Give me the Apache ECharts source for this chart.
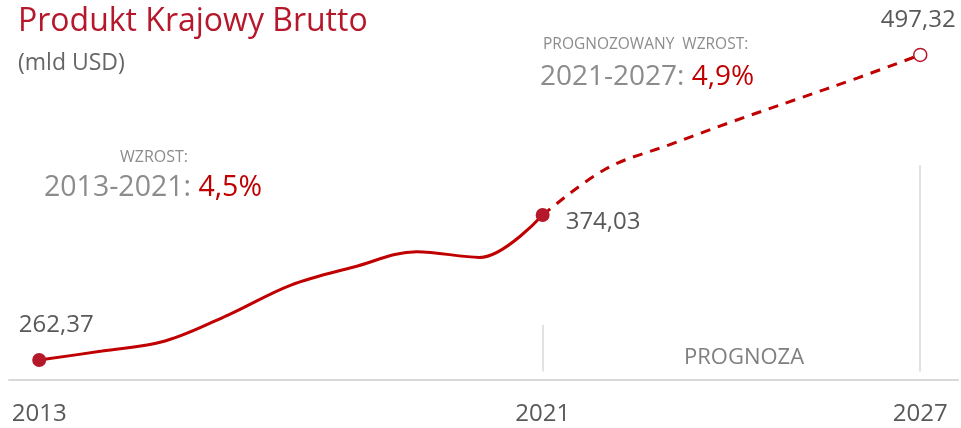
<!DOCTYPE html>
<html>
<head>
<meta charset="utf-8">
<script src="https://cdn.jsdelivr.net/npm/echarts@6/dist/echarts.min.js"></script>
<style>html,body{margin:0;padding:0;background:#fff;}#c{width:961px;height:428px;}</style>
</head>
<body>
<div id="c"></div>
<script>
const years = [2013, 2014, 2015, 2016, 2017, 2018, 2019, 2020, 2021];
const actual = [262.37, 269.3, 277.0, 297.0, 320.1, 334.0, 345.8, 341.4, 374.03];
const forecastYears = [2021, 2022, 2023, 2024, 2025, 2026, 2027];
const forecast = [374.03, 409.5, 427.9, 445.7, 462.6, 479.5, 497.32];
const tickLabels = [2013, 2021, 2027];

const RED = '#C00000';
const DOT = '#B5172B';
const NUM = "'Open Sans', sans-serif";
const TXT = "'Open Sans', sans-serif";

const fmt = v => v.toFixed(2).replace('.', ',');

const chart = echarts.init(document.getElementById('c'), null, {renderer: 'canvas'});

const actualData = years.map((y, i) => {
  const d = {value: [y, actual[i]]};
  if (y === 2013) {
    d.symbolSize = 14;
    d.label = {show: true, position: 'top', offset: [17, -11], formatter: p => fmt(p.value[1]), fontFamily: NUM, fontSize: 24, color: '#595959'};
  } else if (y === 2021) {
    d.symbolSize = 14;
    d.label = {show: true, position: 'right', offset: [11, 7], formatter: p => fmt(p.value[1]), fontFamily: TXT, fontSize: 24, color: '#595959'};
  } else {
    d.symbol = 'none';
  }
  return d;
});

const forecastData = forecastYears.map((y, i) => {
  const d = {value: [y, forecast[i]]};
  if (y === 2027) {
    d.symbol = 'circle';
    d.symbolSize = 13;
    d.label = {show: true, position: 'top', offset: [-2, -11], formatter: p => fmt(p.value[1]), fontFamily: TXT, fontSize: 24, color: '#595959'};
  } else {
    d.symbol = 'none';
  }
  return d;
});

chart.setOption({
  animation: false,
  grid: {left: 9, right: 3, top: 0, bottom: 48},
  xAxis: {
    type: 'value', min: 2012.52, max: 2027.6,
    splitLine: {show: false},
    axisLine: {show: true, lineStyle: {color: '#D9D9D9', width: 2}},
    axisTick: {show: false},
    axisLabel: {customValues: tickLabels, formatter: v => String(v), fontFamily: NUM, fontSize: 24, color: '#595959', margin: 22}
  },
  yAxis: {type: 'value', min: 247, max: 539.6, show: false, splitLine: {show: false}},
  series: [
    {
      type: 'line', smooth: 0.35, data: actualData,
      symbol: 'circle', symbolSize: 14,
      lineStyle: {color: RED, width: 3},
      itemStyle: {color: DOT},
      z: 3,
      markLine: {
        silent: true, symbol: 'none', label: {show: false},
        lineStyle: {color: '#D9D9D9', width: 1.5, type: 'solid'},
        data: [
          [{coord: [2021, 289.5]}, {coord: [2021, 253.5]}],
          [{coord: [2027, 412.5]}, {coord: [2027, 253.5]}]
        ]
      }
    },
    {
      type: 'line', smooth: 0.35, data: forecastData,
      lineStyle: {color: RED, width: 3, type: [10, 8]},
      itemStyle: {color: '#fff', borderColor: DOT, borderWidth: 1.5},
      z: 2
    }
  ],
  graphic: [
    {type: 'text', left: 18, top: 6, style: {text: 'Produkt Krajowy Brutto', fontFamily: TXT, fontSize: 32, fill: '#B5172B'}},
    {type: 'text', left: 18, top: 52, style: {text: '(mld USD)', fontFamily: TXT, fontSize: 23, fill: '#666666'}},
    {type: 'text', left: 120, top: 149, style: {text: 'WZROST:', fontFamily: TXT, fontSize: 16, fill: '#8C8C8C'}},
    {type: 'text', left: 44, top: 173, style: {
      text: '{g|2013-2021: }{r|4,5%}',
      rich: {g: {fontFamily: TXT, fontSize: 28.5, fill: '#8C8C8C'}, r: {fontFamily: TXT, fontSize: 28.5, fill: RED}}
    }},
    {type: 'text', left: 543, top: 37, style: {text: 'PROGNOZOWANY  WZROST:', fontFamily: TXT, fontSize: 15.5, fill: '#8C8C8C'}},
    {type: 'text', left: 540, top: 63, style: {
      text: '{g|2021-2027: }{r|4,9%}',
      rich: {g: {fontFamily: TXT, fontSize: 28, fill: '#8C8C8C'}, r: {fontFamily: TXT, fontSize: 28, fill: RED}}
    }},
    {type: 'text', left: 684, top: 347, style: {text: 'PROGNOZA', fontFamily: NUM, fontSize: 22, fill: '#7F7F7F'}}
  ]
});
</script>
</body>
</html>
